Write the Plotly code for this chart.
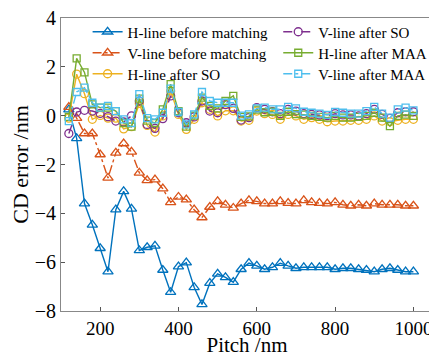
import plotly.graph_objects as go

pitch = list(range(120, 1001, 20))

h_before = [0.25, -0.93, -3.60, -4.47, -5.43, -6.39, -3.85, -3.10, -3.82, -5.52,
            -5.39, -5.33, -6.32, -7.23, -6.18, -6.02, -7.03, -7.73, -6.86, -6.48,
            -6.62, -6.82, -6.29, -6.04, -6.15, -6.29, -6.21, -6.04, -6.15, -6.25,
            -6.21, -6.21, -6.21, -6.21, -6.29, -6.25, -6.25, -6.29, -6.32, -6.39,
            -6.29, -6.25, -6.32, -6.39, -6.39]
v_before = [0.35, -0.10, -0.73, -0.73, -1.59, -2.55, -1.52, -1.14, -1.48, -2.34,
            -2.65, -2.62, -2.99, -3.55, -3.33, -3.44, -3.85, -4.17, -3.74, -3.51,
            -3.65, -3.78, -3.60, -3.47, -3.51, -3.60, -3.60, -3.51, -3.58, -3.60,
            -3.47, -3.55, -3.58, -3.60, -3.55, -3.65, -3.69, -3.65, -3.69, -3.60,
            -3.65, -3.65, -3.65, -3.69, -3.69]
h_so = [-0.10, 1.70, 0.90, -0.15, 0.01, -0.10, -0.10, -0.54, -0.45, 0.50,
        -0.40, -0.67, -0.01, 1.01, 0.05, -0.56, -0.15, 0.53, 0.26, -0.01,
        0.20, 0.20, -0.22, -0.19, 0.19, 0.08, 0.05, -0.15, 0.05, -0.01,
        -0.15, -0.08, -0.15, -0.25, -0.22, -0.22, -0.19, -0.19, -0.15, -0.01,
        -0.22, -0.25, -0.19, -0.15, -0.15]
v_so = [-0.73, 0.15, 0.22, 0.19, 0.09, -0.04, -0.22, -0.26, -0.01, 0.60,
        -0.36, -0.52, -0.12, 0.81, 0.12, -0.29, -0.05, 0.60, 0.19, 0.12,
        0.45, 0.30, -0.18, -0.08, 0.33, 0.26, 0.16, 0.08, 0.26, 0.19,
        0.08, 0.05, 0.03, 0.00, 0.08, 0.03, 0.03, -0.01, 0.08, 0.26,
        0.05, -0.11, 0.12, 0.16, 0.16]
h_maa = [-0.05, 2.35, 1.77, 0.46, 0.33, 0.33, 0.19, -0.30, -0.45, 0.70,
         -0.20, -0.30, 0.26, 1.29, 0.19, -0.45, 0.00, 0.74, 0.40, 0.30,
         0.60, 0.81, -0.05, -0.03, 0.25, 0.14, 0.16, -0.01, 0.16, 0.06,
         0.04, -0.01, -0.05, -0.08, -0.01, -0.08, -0.08, -0.05, -0.01, 0.12,
         -0.08, -0.43, -0.01, 0.04, -0.01]
v_maa = [-0.22, 0.97, 1.15, 0.53, 0.33, 0.40, 0.19, -0.15, -0.30, 0.88,
         -0.10, -0.15, 0.12, 1.11, 0.15, -0.36, 0.05, 0.97, 0.60, 0.53,
         0.53, 0.53, 0.00, 0.05, 0.30, 0.33, 0.26, 0.26, 0.36, 0.30,
         0.16, 0.12, 0.08, 0.03, 0.15, 0.12, 0.08, 0.08, 0.19, 0.36,
         0.08, -0.08, 0.26, 0.33, 0.22]

series = [
    ("H-line before matching", h_before, "#0072BD", "solid", "triangle-up-open", 9),
    ("V-line before matching", v_before, "#D95319", "dashdot", "triangle-up-open", 9),
    ("H-line after SO", h_so, "#EDB120", "solid", "circle-open", 8),
    ("V-line after SO", v_so, "#7E2F8E", "dash", "circle-open", 8),
    ("H-line after MAA", h_maa, "#77AC30", "solid", "square-open", 7),
    ("V-line after MAA", v_maa, "#4DBEEE", "dashdot", "square-open", 7),
]
legend_ids = ["legend", "legend2", "legend3", "legend4", "legend5", "legend6"]

fig = go.Figure()
for (name, vals, color, dash, sym, size), leg in zip(series, legend_ids):
    fig.add_trace(go.Scatter(
        x=pitch, y=vals, name=name, mode="lines+markers",
        line=dict(color=color, width=1.4, dash=dash),
        marker=dict(symbol=sym, size=size, color=color, line=dict(width=1.3, color=color)),
        legend=leg,
    ))

font_family = "Liberation Serif"
legend_common = dict(
    font=dict(family=font_family, size=15, color="black"),
    bgcolor="rgba(0,0,0,0)", borderwidth=0,
    yanchor="middle", xanchor="left",
)
# page has an 8px body offset; figure is 429x349, plot area top at 10, height 293
row_y = [1 - (24 - 10) / 293, 1 - (45 - 10) / 293, 1 - (66 - 10) / 293]
col_x = [0.0715, 0.584]
legend_layout = {}
for i, leg in enumerate(legend_ids):
    col = i // 3
    row = i % 3
    legend_layout[leg] = dict(x=col_x[col], y=row_y[row], **legend_common)

fig.update_layout(
    width=429, height=349,
    margin=dict(l=53, r=4, t=10, b=46),
    plot_bgcolor="white", paper_bgcolor="white",
    font=dict(family=font_family, color="black"),
    showlegend=True,
    xaxis=dict(
        range=[100, 1050], tickvals=[200, 400, 600, 800, 1000],
        ticks="inside", ticklen=4, tickcolor="#555", showgrid=False, zeroline=False,
        showline=True, linecolor="#888", linewidth=1, mirror=True, automargin=False,
        ticklabelstandoff=0, ticklabeloverflow="allow",
        tickfont=dict(family=font_family, size=19, color="black"),
        title=dict(text="Pitch /nm", font=dict(family=font_family, size=21, color="black"), standoff=4),
    ),
    yaxis=dict(
        range=[-8, 4], tickvals=[-8, -6, -4, -2, 0, 2, 4],
        ticks="inside", ticklen=4, tickcolor="#555", showgrid=False, zeroline=False,
        showline=True, linecolor="#888", linewidth=1, mirror=True, automargin=False,
        ticklabeloverflow="allow",
        tickfont=dict(family=font_family, size=20, color="black"),
        title=dict(text="CD error /nm", font=dict(family=font_family, size=22, color="black"), standoff=4),
    ),
    **legend_layout,
)

fig.write_html("out.html")
